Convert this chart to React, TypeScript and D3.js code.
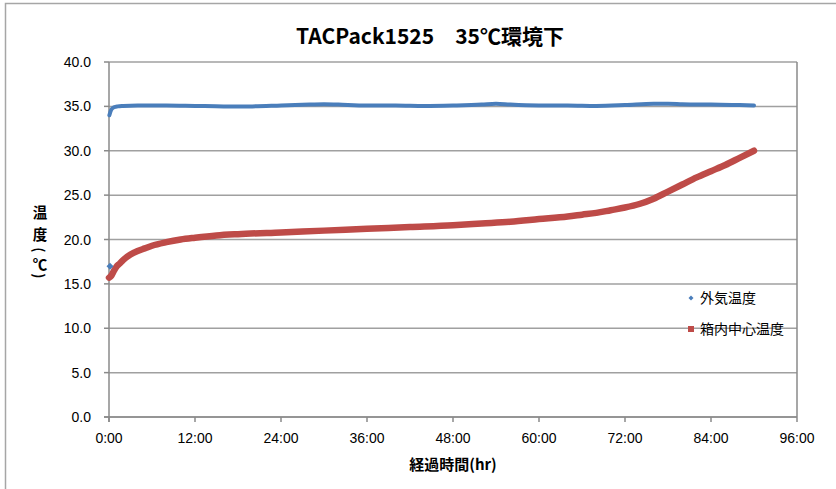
import React from "react";
import * as d3 from "d3";

const TITLE = "TACPack1525　35℃環境下";
const X_TICKS = [0, 12, 24, 36, 48, 60, 72, 84, 96];
const X_TICK_LABELS = ["0:00", "12:00", "24:00", "36:00", "48:00", "60:00", "72:00", "84:00", "96:00"];
const Y_TICKS = [0, 5, 10, 15, 20, 25, 30, 35, 40];
const SERIES_NAMES = ["外気温度", "箱内中心温度"];
const Y_LABEL_CHARS = ["温", "度", "(", "℃", ")"];

const outsideHours = [0, 0.05, 0.3, 0.7, 1.2, 2, 4, 8, 12, 16, 20, 24, 28, 30, 32, 36, 40, 44, 48, 52, 54, 56, 60, 64, 68, 72, 76, 78, 80, 84, 88, 90];
const outsideTemp = [17.0, 34.0, 34.6, 34.9, 35.0, 35.05, 35.1, 35.1, 35.05, 35.0, 35.0, 35.1, 35.2, 35.25, 35.2, 35.1, 35.1, 35.05, 35.1, 35.2, 35.3, 35.2, 35.1, 35.1, 35.05, 35.15, 35.3, 35.3, 35.25, 35.2, 35.15, 35.1];

const insideHours = [0, 0.3, 0.7, 1, 1.5, 2, 3, 4, 5, 6, 8, 10, 12, 15, 18, 24, 30, 36, 42, 48, 52, 56, 60, 64, 66, 68, 70, 72, 74, 76, 78, 80, 82, 84, 86, 88, 90];
const insideTemp = [15.7, 15.9, 16.5, 16.9, 17.3, 17.7, 18.3, 18.7, 19.0, 19.3, 19.7, 20.0, 20.2, 20.45, 20.6, 20.8, 21.0, 21.2, 21.4, 21.6, 21.8, 22.0, 22.3, 22.6, 22.8, 23.0, 23.3, 23.6, 24.0, 24.6, 25.4, 26.2, 27.0, 27.7, 28.4, 29.2, 30.0];

export default function App() {
  const W = 836, H = 489;
  const left = 109, right = 797, top = 62, bottom = 417;
  const x = d3.scaleLinear().domain([0, 96]).range([left, right]);
  const y = d3.scaleLinear().domain([0, 40]).range([bottom, top]);

  const mkLine = d3.line<[number, number]>().x(d => x(d[0])).y(d => y(d[1])).curve(d3.curveMonotoneX);

  const outPts: [number, number][] = outsideHours.map((h, i) => [h, outsideTemp[i]]);
  const inPts: [number, number][] = insideHours.map((h, i) => [h, insideTemp[i]]);
  const segs: [number, number][][] = [];
  let cur: [number, number][] = [];
  outPts.forEach((p, i) => {
    if (i > 0 && Math.abs(p[1] - outPts[i - 1][1]) > 5) { segs.push(cur); cur = []; }
    cur.push(p);
  });
  segs.push(cur);

  const blue = "#4a7ebb";
  const red = "#be4b48";
  const cjk = "'Noto Sans CJK JP', sans-serif";
  const numFont = "'Liberation Sans Narrow', 'Liberation Sans', sans-serif";

  const diamond = (cx: number, cy: number, r: number) => `M${cx},${cy - r}L${cx + r},${cy}L${cx},${cy + r}L${cx - r},${cy}Z`;
  const labelY = [211, 233, 250, 263, 276];

  return (
    <svg width={W} height={H} style={{ position: "absolute", left: 0, top: 0, background: "#fff" }}>
      <rect x={5.5} y={3.5} width={840} height={500} fill="#fff" stroke="#a6a6a6" strokeWidth={1.5} />
      <text x={430} y={44} textAnchor="middle" fontFamily={cjk} fontWeight="bold" fontSize={21} fill="#000">{TITLE}</text>
      {Y_TICKS.map(t => (
        <line key={"g" + t} x1={left} x2={right} y1={y(t)} y2={y(t)} stroke="#a0a0a0" strokeWidth={1.5} />
      ))}
      <line x1={right} x2={right} y1={top} y2={bottom} stroke="#8a8a8a" strokeWidth={1.5} />
      <line x1={left} x2={left} y1={top} y2={bottom + 5} stroke="#8a8a8a" strokeWidth={1.5} />
      <line x1={left - 5} x2={right} y1={bottom} y2={bottom} stroke="#8a8a8a" strokeWidth={1.5} />
      {Y_TICKS.map(t => (
        <g key={"yt" + t}>
          <line x1={left - 5} x2={left} y1={y(t)} y2={y(t)} stroke="#8a8a8a" strokeWidth={1.5} />
          <text x={left - 18} y={y(t) + 5} textAnchor="end" fontFamily="'Liberation Sans', sans-serif" fontSize={14} fill="#000">{t.toFixed(1)}</text>
        </g>
      ))}
      {X_TICKS.map((t, i) => (
        <g key={"xt" + t}>
          <line x1={x(t)} x2={x(t)} y1={bottom} y2={bottom + 5} stroke="#8a8a8a" strokeWidth={1.5} />
          <text x={x(t)} y={443} textAnchor="middle" fontFamily={numFont} fontSize={14} fill="#000">{X_TICK_LABELS[i]}</text>
        </g>
      ))}
      <text x={453} y={470} textAnchor="middle" fontFamily={cjk} fontWeight="bold" fontSize={15} fill="#000">経過時間(hr)</text>
      {Y_LABEL_CHARS.map((c, i) => {
        const rot = c === "(" || c === ")";
        return (
          <g key={"yl" + i} transform={`translate(40,${labelY[i]})${rot ? " rotate(90)" : ""}`}>
            <text x={0} y={0} textAnchor="middle" dominantBaseline="central" fontFamily={cjk} fontWeight="bold" fontSize={rot ? 14 : 14.5} fill="#000">{c}</text>
          </g>
        );
      })}
      <path d={mkLine(inPts) || ""} fill="none" stroke={red} strokeWidth={6.5} strokeLinecap="round" />
      {segs.map((s, i) => s.length > 1 ? (
        <path key={"b" + i} d={mkLine(s) || ""} fill="none" stroke={blue} strokeWidth={4} strokeLinecap="round" />
      ) : (
        <path key={"b" + i} d={diamond(x(s[0][0]) + 1, y(s[0][1]), 3.5)} fill={blue} />
      ))}
      <path d={diamond(691, 298, 2.5)} fill={blue} />
      <text x={700} y={303} fontFamily={cjk} fontSize={14} fill="#000">{SERIES_NAMES[0]}</text>
      <rect x={688} y={326} width={6} height={6} fill={red} />
      <text x={700} y={334} fontFamily={cjk} fontSize={14} fill="#000">{SERIES_NAMES[1]}</text>
    </svg>
  );
}
